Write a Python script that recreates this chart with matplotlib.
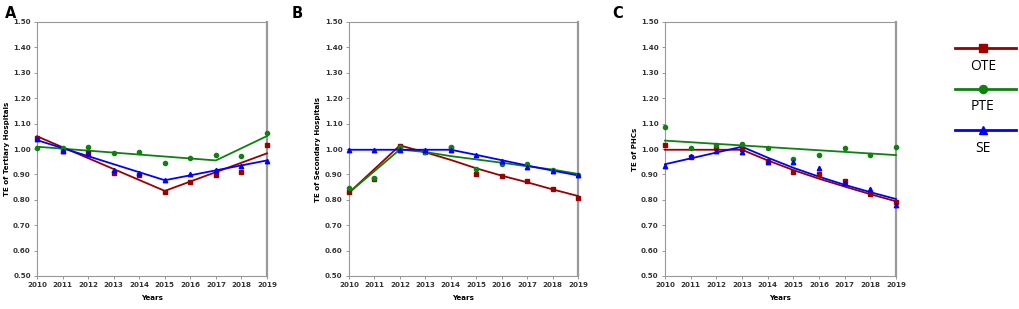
import matplotlib
matplotlib.use("Agg")
import matplotlib.pyplot as plt
from matplotlib.lines import Line2D

years = [2010, 2011, 2012, 2013, 2014, 2015, 2016, 2017, 2018, 2019]
yticks = [0.50, 0.60, 0.70, 0.80, 0.90, 1.00, 1.10, 1.20, 1.30, 1.40, 1.50]
series_names = ["OTE", "PTE", "SE"]
panel_letters = ["A", "B", "C"]
ylabels = ["TE of Tertiary Hospitals", "TE of Secondary Hospitals", "TE of PHCs"]

# Observed values (markers)
ote_A = [1.045, 0.992, 0.983, 0.904, 0.896, 0.831, 0.870, 0.899, 0.911, 1.014]
pte_A = [1.002, 1.005, 1.008, 0.984, 0.988, 0.946, 0.966, 0.975, 0.974, 1.064]
se_A = [1.038, 0.992, 0.980, 0.917, 0.906, 0.877, 0.900, 0.919, 0.934, 0.953]

ote_B = [0.832, 0.883, 1.013, 0.987, 1.005, 0.902, 0.894, 0.874, 0.841, 0.807]
pte_B = [0.845, 0.885, 1.007, 0.988, 1.009, 0.921, 0.940, 0.941, 0.919, 0.899]
se_B = [0.997, 0.997, 0.997, 0.997, 0.997, 0.975, 0.953, 0.929, 0.915, 0.896]

ote_C = [1.014, 0.970, 1.005, 1.000, 0.951, 0.909, 0.903, 0.874, 0.824, 0.790]
pte_C = [1.087, 1.003, 1.014, 1.020, 1.003, 0.959, 0.975, 1.005, 0.978, 1.009]
se_C = [0.934, 0.974, 0.992, 0.990, 0.949, 0.949, 0.926, 0.867, 0.841, 0.781]

# Fitted trend lines (joinpoint knots)
ote_fit_yrs_A = [2010, 2015, 2019]
ote_fit_A = [1.050, 0.835, 0.983]
pte_fit_yrs_A = [2010, 2017, 2019]
pte_fit_A = [1.009, 0.955, 1.051]
se_fit_yrs_A = [2010, 2015, 2019]
se_fit_A = [1.035, 0.877, 0.955]

ote_fit_yrs_B = [2010, 2012, 2013, 2014, 2015, 2016, 2017, 2018, 2019]
ote_fit_B = [0.828, 1.014, 0.987, 0.957, 0.924, 0.895, 0.869, 0.841, 0.815]
pte_fit_yrs_B = [2010, 2012, 2013, 2014, 2015, 2016, 2017, 2018, 2019]
pte_fit_B = [0.828, 0.998, 0.988, 0.972, 0.959, 0.946, 0.932, 0.919, 0.902]
se_fit_yrs_B = [2010, 2014, 2015, 2016, 2017, 2018, 2019]
se_fit_B = [0.997, 0.997, 0.977, 0.956, 0.935, 0.915, 0.896]

ote_fit_yrs_C = [2010, 2013, 2014, 2015, 2016, 2017, 2018, 2019]
ote_fit_C = [0.997, 0.997, 0.955, 0.917, 0.883, 0.852, 0.822, 0.794]
pte_fit_yrs_C = [2010, 2019]
pte_fit_C = [1.033, 0.976]
se_fit_yrs_C = [2010, 2013, 2014, 2015, 2016, 2017, 2018, 2019]
se_fit_C = [0.940, 1.009, 0.966, 0.926, 0.891, 0.859, 0.830, 0.803]

colors = {"OTE": "#990000", "PTE": "#108010", "SE": "#0000ff"}
markers = {"OTE": "s", "PTE": "o", "SE": "^"}
msizes = {"OTE": 3.4, "PTE": 3.0, "SE": 3.2}

panels = [
    {"OTE": (ote_A, ote_fit_yrs_A, ote_fit_A), "PTE": (pte_A, pte_fit_yrs_A, pte_fit_A), "SE": (se_A, se_fit_yrs_A, se_fit_A)},
    {"OTE": (ote_B, ote_fit_yrs_B, ote_fit_B), "PTE": (pte_B, pte_fit_yrs_B, pte_fit_B), "SE": (se_B, se_fit_yrs_B, se_fit_B)},
    {"OTE": (ote_C, ote_fit_yrs_C, ote_fit_C), "PTE": (pte_C, pte_fit_yrs_C, pte_fit_C), "SE": (se_C, se_fit_yrs_C, se_fit_C)},
]

fig = plt.figure(figsize=(10.2, 3.09), dpi=100)
lefts = [37 / 1020, 349 / 1020, 665 / 1020]
widths = [230 / 1020, 229 / 1020, 231 / 1020]
bottom = 1 - 276 / 309
height = (276 - 22) / 309
letter_x = [5 / 1020, 292 / 1020, 612 / 1020]
ylabel_x_px = [7, 318, 635]

for i, pdata in enumerate(panels):
    ax = fig.add_axes([lefts[i], bottom, widths[i], height])
    for name in series_names:
        obs, fy, fv = pdata[name]
        ax.plot(fy, fv, color=colors[name], lw=1.3, zorder=3, clip_on=False)
        ax.plot(years, obs, ls="none", marker=markers[name], ms=msizes[name],
                color=colors[name], mec=colors[name], zorder=4, clip_on=False)
    ax.set_xlim(2010, 2019)
    ax.set_ylim(0.5, 1.5)
    ax.set_xticks(years)
    ax.set_xticklabels([str(y) for y in years], fontsize=5.1, fontweight="bold", color="#333333")
    ax.set_yticks(yticks)
    ax.set_yticklabels(["%.2f" % v for v in yticks], fontsize=5.1, fontweight="bold", color="#333333")
    ax.tick_params(axis="both", length=2.5, width=0.6, color="#888888", pad=2)
    for s in ["left", "bottom", "top"]:
        ax.spines[s].set_color("#999999")
        ax.spines[s].set_linewidth(0.8)
    ax.spines["right"].set_color("#999999")
    ax.spines["right"].set_linewidth(1.6)
    ax.set_xlabel("Years", fontsize=5.1, fontweight="bold", va="center")
    ax.xaxis.set_label_coords(0.5, (276 - 298) / 254)
    ax.set_ylabel(ylabels[i], fontsize=5.1, fontweight="bold", va="center")
    ax.yaxis.set_label_coords((ylabel_x_px[i] - lefts[i] * 1020) / (widths[i] * 1020), 0.5)
    fig.text(letter_x[i], 1 - 18 / 309, panel_letters[i], fontsize=10.5,
             fontweight="bold", ha="left", va="baseline")

# Legend drawn manually on the right
leg_ax = fig.add_axes([945 / 1020, 0, 75 / 1020, 1])
leg_ax.set_xlim(0, 75)
leg_ax.set_ylim(309, 0)
leg_ax.axis("off")
leg_line_y = [48, 89, 130]
for name, ly in zip(series_names, leg_line_y):
    leg_ax.add_line(Line2D([10, 71], [ly, ly], color=colors[name], lw=2.0))
    leg_ax.add_line(Line2D([38], [ly], marker=markers[name], ms=5.8, color=colors[name],
                           mec=colors[name], ls="none"))
    leg_ax.text(38, ly + 18, name, fontsize=10, ha="center", va="center",
                family="Open Sans")

fig.savefig("out.png", dpi=100)
